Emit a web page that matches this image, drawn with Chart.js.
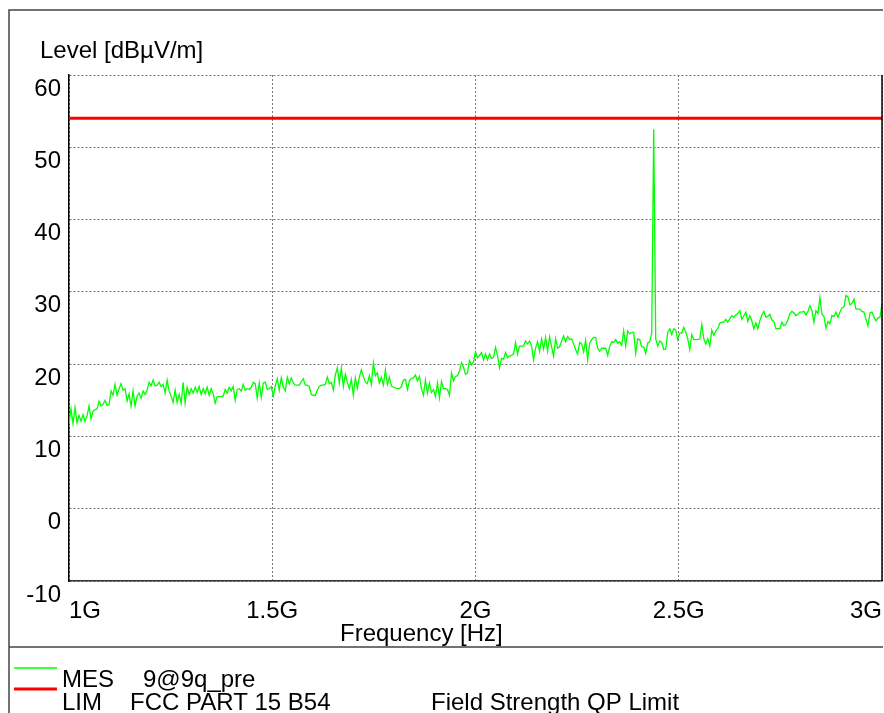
<!DOCTYPE html>
<html>
<head>
<meta charset="utf-8">
<script src="https://cdn.jsdelivr.net/npm/chart.js@4.4.1/dist/chart.umd.min.js"></script>
<style>
  html, body { margin: 0; padding: 0; background: #fff; }
  #wrap { width: 884px; height: 713px; }
</style>
</head>
<body>
<div id="wrap"><canvas id="scan" width="884" height="713"></canvas></div>
<script>
// sweep: 1 GHz .. 3 GHz, levels in dBuV/m
const sweepStart = 1000, sweepStop = 3000;   // MHz

const mesLevels = [
  11.7, 13.8, 11.8, 14.0, 11.9, 12.9, 12.1, 13.0, 12.1, 12.8,
  14.2, 12.4, 13.5, 13.7, 13.8, 14.9, 14.2, 14.4, 15.0, 14.3,
  14.4, 16.3, 15.7, 17.2, 15.7, 16.6, 17.3, 16.4, 16.6, 14.9,
  15.9, 14.2, 16.3, 14.2, 15.6, 16.0, 15.3, 16.3, 15.8, 16.4,
  17.5, 17.0, 17.8, 17.0, 17.1, 17.5, 16.9, 17.2, 16.0, 17.8,
  16.3, 15.6, 14.7, 16.4, 14.7, 15.8, 14.6, 17.5, 14.6, 16.8,
  15.8, 16.6, 16.0, 16.8, 16.1, 16.9, 15.8, 16.6, 15.9, 16.8,
  15.7, 16.6, 15.9, 14.6, 15.5, 15.5, 15.5, 15.6, 16.5, 16.0,
  16.8, 16.3, 16.9, 15.0,
  16.5, 16.6, 16.3, 17.2, 16.4, 16.6, 16.5, 16.8, 17.5, 17.3,
  15.3, 17.4, 15.4, 17.4, 17.5, 16.5, 16.6, 16.9, 15.6, 17.0,
  18.0, 16.4, 18.1, 16.8, 16.3, 18.2, 17.3, 18.1, 17.4, 17.1,
  17.1, 17.1, 17.6, 18.0, 17.1, 17.1, 16.9, 15.8, 15.7, 15.7,
  16.4, 16.9, 17.1, 17.1, 17.2, 18.2, 17.3, 17.5, 16.4, 18.5,
  19.5, 17.4, 19.5, 16.9, 18.6, 17.5, 16.6, 17.9, 15.7, 18.1,
  16.7, 18.2, 19.2, 18.3, 17.5, 17.3, 18.4, 17.2, 20.2, 18.4,
  18.8, 17.4, 18.2, 17.1, 19.2, 17.2, 18.2, 17.0, 16.8, 16.7,
  16.6, 16.6, 16.9,
  17.8, 17.9, 16.5, 17.7, 18.0, 18.1, 18.5, 17.7, 18.3, 16.6,
  15.7, 17.8, 16.0, 17.4, 16.1, 16.5, 15.5, 17.4, 15.3, 17.6,
  16.6, 16.6, 16.5, 15.7, 18.8, 17.7, 18.3, 18.4, 19.0, 20.2,
  19.6, 18.6, 18.8, 20.5, 19.9, 20.3, 21.7, 20.9, 21.2, 21.6,
  20.6, 21.4, 20.6, 21.4, 20.8, 20.9, 22.3, 21.2, 19.5, 20.8,
  20.7, 21.6, 20.9, 21.1, 21.2, 21.4, 23.0, 21.4, 22.5, 22.5,
  22.5, 23.2, 22.8, 23.2, 22.5, 20.6, 22.2, 23.1, 21.8, 23.5,
  22.1, 23.7, 21.8, 23.8, 22.4, 21.1, 23.5, 22.2, 22.4, 23.2,
  23.9, 23.1, 23.8,
  23.4, 23.5, 22.8, 22.0, 21.4, 23.0, 22.8, 21.7, 23.3, 20.6,
  22.9, 23.4, 23.7, 23.7, 22.2, 21.8, 22.2, 22.2, 22.2, 21.2,
  22.4, 23.1, 23.0, 23.4, 22.9, 23.1, 22.6, 24.6, 22.5, 24.6,
  24.2, 24.4, 24.4, 21.5, 23.5, 23.4, 22.4, 22.4, 21.5, 22.9,
  23.1, 24.3, 52.5, 23.5, 22.5, 23.2, 23.0, 22.0, 22.1, 24.4,
  24.9, 24.1, 24.9, 24.7, 23.4, 24.3, 24.3, 25.1, 24.4, 23.5,
  22.0, 24.1, 23.4, 23.4, 23.4, 23.5, 25.5, 23.5, 22.8, 23.5,
  22.5, 24.7, 24.0, 24.6, 24.9, 25.7, 25.8, 25.8, 26.2, 25.8,
  26.3, 26.7, 26.5,
  26.8, 27.0, 27.4, 26.2, 26.7, 27.2, 25.9, 26.7, 26.0, 24.9,
  25.7, 24.9, 26.0, 26.8, 27.3, 26.5, 26.6, 26.9, 26.1, 25.9,
  24.9, 24.9, 24.9, 25.8, 25.3, 25.5, 26.1, 27.0, 27.3, 27.1,
  26.7, 26.9, 27.2, 27.2, 27.3, 26.8, 27.3, 28.1, 27.4, 25.8,
  27.4, 27.0, 29.2, 26.9, 26.6, 25.0, 25.9, 25.6, 26.7, 26.6,
  27.2, 26.5, 27.2, 27.8, 27.9, 29.5, 29.3, 28.2, 28.4, 29.0,
  27.6, 27.6, 27.6, 27.3, 27.2, 26.2, 25.3, 27.1, 27.2, 26.5,
  26.0, 26.4, 26.5, 28.3
];

const limitFreqs = [1000, 3000];
const limitLevels = [54, 54];

const xTicks = [1000, 1500, 2000, 2500, 3000];
const yMin = -10, yMax = 60, yStep = 10;

const yTitle = 'Level [dBµV/m]';
const xTitle = 'Frequency [Hz]';

const legendNames = ['MES', 'LIM'];
const legendSources = ['9@9q_pre', 'FCC PART 15 B54'];
const legendNotes = ['', 'Field Strength QP Limit'];

const FONT = '"Liberation Sans", Arial, sans-serif';
Chart.defaults.font.family = FONT;
Chart.defaults.font.size = 24;
Chart.defaults.color = '#000';

const mesPoints = mesLevels.map((v, i) => ({
	x: sweepStart + i * (sweepStop - sweepStart) / (mesLevels.length - 1),
	y: v
}));
const limitPoints = limitFreqs.map((f, i) => ({x: f, y: limitLevels[i]}));

// frame, titles and legend block around the plot
const frame = {
	id: 'frame',
	afterDraw(chart) {
		const ctx = chart.ctx, a = chart.chartArea;
		const sets = chart.data.datasets;
		ctx.save();

		ctx.strokeStyle = '#000';
		ctx.lineWidth = 1.5;
		ctx.beginPath();
		ctx.moveTo(a.right, a.top);
		ctx.lineTo(a.right, a.bottom);
		ctx.stroke();

		ctx.strokeStyle = '#444';
		ctx.lineWidth = 1.5;
		ctx.beginPath();
		ctx.moveTo(9, 713);
		ctx.lineTo(9, 10);
		ctx.lineTo(883, 10);
		ctx.moveTo(9, 647);
		ctx.lineTo(883, 647);
		ctx.stroke();

		ctx.fillStyle = '#000';
		ctx.font = '24px ' + FONT;
		ctx.textAlign = 'left';
		ctx.textBaseline = 'alphabetic';
		ctx.fillText(yTitle, 40, 58);
		ctx.fillText(xTitle, 340, 641);

		// legend rows
		const rows = [668, 689];
		const baselines = [687, 710];
		sets.forEach((ds, i) => {
			ctx.strokeStyle = ds.borderColor;
			ctx.lineWidth = ds.borderWidth;
			ctx.beginPath();
			ctx.moveTo(14, rows[i]);
			ctx.lineTo(57, rows[i]);
			ctx.stroke();
			ctx.fillText(legendNames[i], 62, baselines[i]);
			ctx.fillText(legendSources[i], i === 0 ? 143 : 130, baselines[i]);
			if (legendNotes[i]) ctx.fillText(legendNotes[i], 431, baselines[i]);
		});
		ctx.restore();
	}
};

new Chart(document.getElementById('scan'), {
	type: 'line',
	data: {
		datasets: [{
			label: legendNames[0],
			data: mesPoints,
			borderColor: '#00ff00',
			borderWidth: 1.3,
			pointRadius: 0,
			tension: 0,
		}, {
			label: legendNames[1],
			data: limitPoints,
			borderColor: '#ff0000',
			borderWidth: 3,
			pointRadius: 0,
			tension: 0,
		}]
	},
	options: {
		responsive: false,
		animation: false,
		layout: {
			padding: {left: 9, top: 75, right: 2, bottom: 72}
		},
		plugins: {
			legend: {display: false},
			tooltip: {enabled: false},
		},
		scales: {
			x: {
				type: 'linear',
				min: sweepStart,
				max: sweepStop,
				afterBuildTicks: (axis) => { axis.ticks = xTicks.map(v => ({value: v})); },
				afterFit: (axis) => {
					axis.height = 60;
					axis.paddingLeft = 0;
					axis.paddingRight = 0;
				},
				ticks: {
					align: 'inner',
					autoSkip: false,
					maxRotation: 0,
					padding: 16,
					callback: (v) => (v / 1000) + 'G',
				},
				grid: {color: '#777', lineWidth: 1, drawTicks: false},
				border: {display: true, color: '#333', width: 1.5, dash: [2, 2]},
			},
			y: {
				min: yMin,
				max: yMax,
				afterFit: (axis) => {
					axis.width = 60;
					axis.paddingTop = 0;
					axis.paddingBottom = 0;
				},
				ticks: {
					stepSize: yStep,
					padding: 8,
					labelOffset: 14,
				},
				grid: {color: '#777', lineWidth: 1, drawTicks: false},
				border: {display: true, color: '#000', width: 1.5, dash: [2, 2]},
			}
		}
	},
	plugins: [frame]
});
</script>
</body>
</html>
